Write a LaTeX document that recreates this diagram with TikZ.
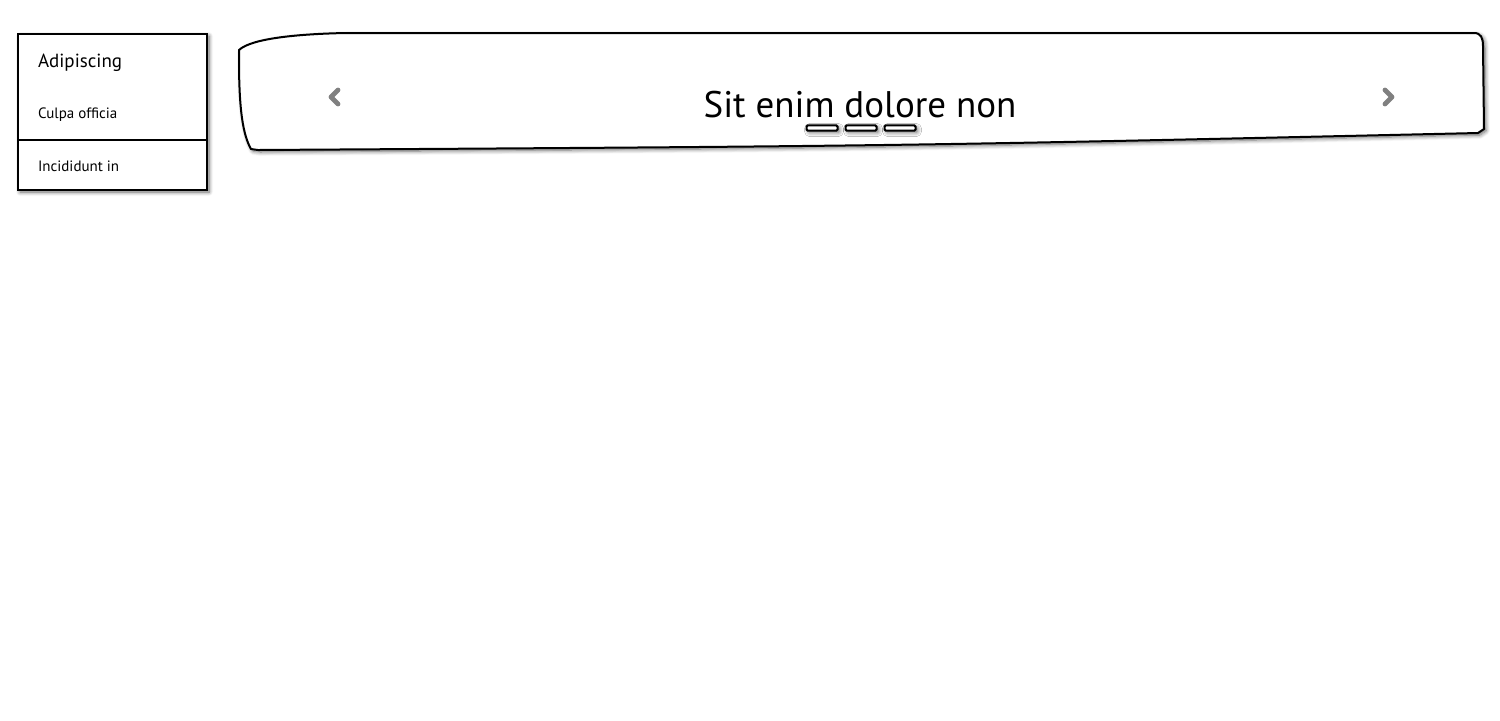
\documentclass[tikz,border=0pt]{standalone}
\usepackage{fontspec}
\setmainfont{PT Sans}
\usetikzlibrary{shadows.blur,positioning}
\tikzset{
  panel/.style={draw=black,line width=1pt,fill=white,
    blur shadow={shadow xshift=1pt,shadow yshift=-1pt,shadow blur steps=6,shadow opacity=60}},
  chev/.style={draw=black!50,line width=2.4pt,line cap=round,line join=round},
  dotbar/.style={panel,line width=1pt,rounded corners=0.6pt,minimum width=15.5pt,minimum height=2.6pt,inner sep=0pt,outer sep=0pt}
}
\begin{document}
\begin{tikzpicture}[x=0.5pt,y=-0.5pt]
\useasboundingbox (0,0) rectangle (1500,720);
% side menu
\node[panel,anchor=north west,minimum width=94.5pt,minimum height=78pt,inner sep=0pt] (menu) at (17,33) {};
\coordinate (split) at (17,140);
\draw[line width=1pt] (split) -- (split -| menu.east);
\node[anchor=west,font=\fontsize{9.5}{11}\selectfont] (head) at (31,63) {Adipiscing};
\node[anchor=west,font=\fontsize{7.5}{9}\selectfont] (item1) at (31,115) {Culpa officia};
\node[anchor=west,font=\fontsize{7.5}{9}\selectfont] (item2) at (31,166) {Incididunt in};
% carousel
\draw[panel] (239,50) .. controls (252,38) and (300,34) .. (345,33) -- (1474,33)
  .. controls (1481,33) and (1483,38) .. (1483,46) -- (1484,129) -- (1478,133)
  .. controls (900,146) .. (258,150) -- (251,149)
  .. controls (243,135) and (239,110) .. (239,60) -- cycle;
\draw[chev] (338,90) -- (331,97) -- (338,104);
\draw[chev] (1385,90) -- (1392,97) -- (1385,104);
\node[font=\fontsize{18.5}{22}\selectfont] (title) at (860,105) {Sit enim dolore non};
\node[dotbar] (dot1) at (822,128) {};
\node[dotbar,right=4pt of dot1] (dot2) {};
\node[dotbar,right=4pt of dot2] (dot3) {};
\end{tikzpicture}
\end{document}
